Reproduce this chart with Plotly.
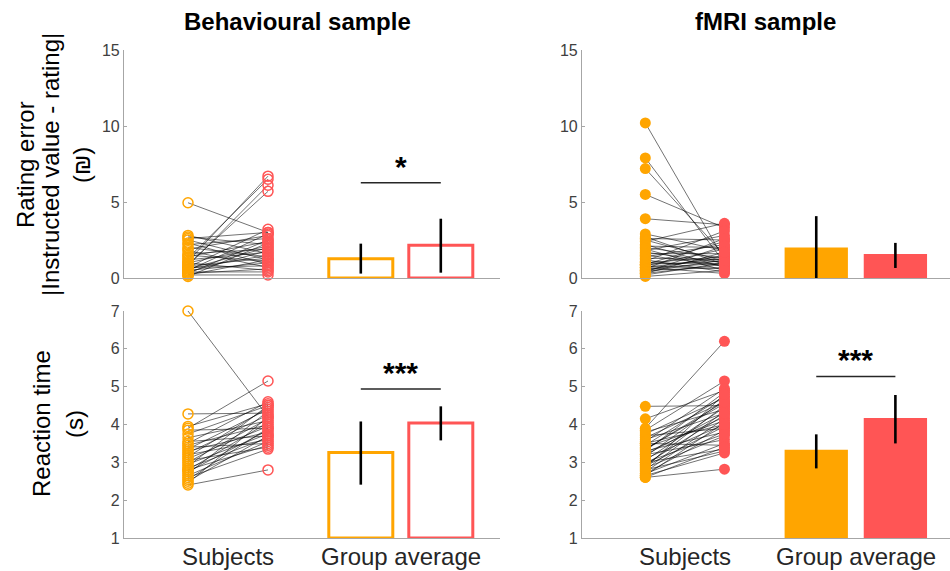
import plotly.graph_objects as go

ORANGE = "#FFA500"
RED = "#FF5555"
FONT = "Liberation Sans, Arial, sans-serif"

# ---------------- categories / ticks ----------------
subj_pos = [1, 2]
bar_pos = [3.16, 4.16]
xtick_vals = [1.5, 3.66]
xtick_labels = ["Subjects", "Group average"]
panel_titles = ["Behavioural sample", "fMRI sample"]
rating_ticks = [0, 5, 10, 15]
rt_ticks = [1, 2, 3, 4, 5, 6, 7]

# ---------------- Behavioural sample: rating error ----------------
beh_rating_orange = [4.95, 2.8, 2.7, 2.6, 2.5, 2.3, 2.2, 2.0, 1.9, 1.8, 1.6, 1.5,
                     1.4, 1.3, 1.2, 1.1, 1.0, 1.0, 0.9, 0.8, 0.8, 0.7, 0.7, 0.6,
                     0.6, 0.5, 0.5, 0.4, 0.4, 0.3, 0.3, 0.2, 0.2, 0.1]
beh_rating_red = [3.0, 1.6, 2.2, 3.0, 1.2, 0.9, 2.6, 1.4, 2.8, 0.7, 1.9, 1.1,
                  2.4, 6.5, 1.7, 6.7, 0.5, 2.1, 5.7, 6.1, 1.3, 3.2, 0.8, 2.0,
                  1.5, 2.9, 1.0, 0.4, 1.8, 2.5, 0.6, 1.2, 0.2, 2.3]
beh_rating_mean = [1.27, 2.15]
beh_rating_lo = [0.29, 0.35]
beh_rating_hi = [2.26, 3.90]

# ---------------- fMRI sample: rating error ----------------
fmri_rating_orange = [10.2, 7.9, 7.2, 5.5, 3.9, 2.9, 2.7, 2.6, 2.5, 2.4, 2.2, 2.1,
                      2.0, 1.9, 1.8, 1.7, 1.6, 1.5, 1.4, 1.3, 1.2, 1.1, 1.0, 1.0,
                      0.9, 0.9, 0.8, 0.8, 0.7, 0.7, 0.6, 0.6, 0.5, 0.5, 0.4, 0.4,
                      0.3, 0.3, 0.2, 0.1]
fmri_rating_red = [1.2, 1.0, 1.5, 3.3, 3.5, 1.8, 0.9, 2.5, 1.1, 3.6, 0.7, 2.0,
                   1.3, 0.5, 2.8, 1.0, 1.6, 0.8, 2.2, 1.2, 0.4, 3.1, 1.4, 0.9,
                   2.4, 1.1, 0.6, 1.9, 1.3, 0.3, 2.6, 1.0, 1.5, 0.7, 1.2, 2.1,
                   0.9, 1.7, 1.0, 0.5]
fmri_rating_mean = [2.0, 1.58]
fmri_rating_lo = [0.0, 0.66]
fmri_rating_hi = [4.07, 2.31]

# ---------------- Behavioural sample: reaction time ----------------
beh_rt_orange = [7.0, 4.28, 3.95, 3.9, 3.85, 3.75, 3.65, 3.55, 3.5, 3.45, 3.4, 3.35,
                 3.3, 3.25, 3.2, 3.15, 3.1, 3.05, 3.0, 2.95, 2.9, 2.85, 2.8, 2.8,
                 2.75, 2.7, 2.65, 2.6, 2.55, 2.5, 2.45, 2.4]
beh_rt_red = [4.2, 4.3, 4.55, 5.15, 3.9, 4.5, 4.1, 3.7, 4.6, 4.0, 3.5, 4.4,
              3.8, 4.25, 3.6, 4.45, 3.95, 3.4, 4.15, 3.75, 4.5, 3.65, 4.05, 3.45,
              3.85, 4.35, 3.55, 3.35, 3.9, 3.7, 4.2, 2.8]
beh_rt_mean = [3.26, 4.04]
beh_rt_lo = [2.41, 3.58]
beh_rt_hi = [4.08, 4.48]

# ---------------- fMRI sample: reaction time ----------------
fmri_rt_orange = [4.48, 4.15, 3.9, 3.85, 3.8, 3.75, 3.7, 3.65, 3.6, 3.55, 3.5, 3.45,
                  3.4, 3.35, 3.3, 3.3, 3.25, 3.2, 3.15, 3.1, 3.05, 3.0, 2.95, 2.9,
                  2.9, 2.85, 2.8, 2.8, 2.75, 2.7, 2.7, 2.65, 2.65, 2.6, 2.6, 3.35,
                  3.0, 2.85, 3.5, 3.2]
fmri_rt_red = [4.5, 4.9, 6.2, 5.15, 4.4, 4.7, 3.9, 4.6, 4.3, 4.95, 3.45, 4.75,
               4.1, 4.55, 3.8, 4.85, 4.2, 3.6, 4.65, 4.0, 4.45, 3.35, 4.25, 3.95,
               4.5, 3.7, 4.35, 3.3, 4.15, 3.85, 3.5, 4.05, 3.25, 2.82, 3.4, 4.6,
               3.75, 4.8, 4.0, 4.3]
fmri_rt_mean = [3.33, 4.17]
fmri_rt_lo = [2.84, 3.50]
fmri_rt_hi = [3.74, 4.78]

# significance markers
sig_panels = ["beh_rating", "beh_rt", "fmri_rt"]
sig_heights = [6.26, 4.94, 5.27]
sig_labels = ["*", "***", "***"]
sig_label_heights = [7.36, 5.38, 5.71]

W, H = 950, 571
fig = go.Figure()


def add_panel(xa, ya, orange_vals, red_vals, means, lo, hi, filled, base):
    lx, ly = [], []
    for o, r in zip(orange_vals, red_vals):
        lx += [subj_pos[0], subj_pos[1], None]
        ly += [o, r, None]
    fig.add_trace(go.Scatter(x=lx, y=ly, mode="lines", xaxis=xa, yaxis=ya,
                             line=dict(color="rgba(0,0,0,0.62)", width=0.9),
                             hoverinfo="skip", showlegend=False, cliponaxis=False))
    for pos, vals, col in ((subj_pos[0], orange_vals, ORANGE), (subj_pos[1], red_vals, RED)):
        if filled:
            mk = dict(symbol="circle", size=11, color=col, line=dict(width=0))
        else:
            mk = dict(symbol="circle-open", size=10, color=col, line=dict(width=1.5, color=col))
        fig.add_trace(go.Scatter(x=[pos] * len(vals), y=vals, mode="markers",
                                 xaxis=xa, yaxis=ya, marker=mk, showlegend=False,
                                 cliponaxis=False))
    fig.add_trace(go.Bar(
        x=bar_pos, y=[m - base for m in means], base=base, width=0.8,
        xaxis=xa, yaxis=ya, showlegend=False,
        marker=dict(color=[ORANGE, RED] if filled else ["rgba(0,0,0,0)"] * 2,
                    line=dict(color=[ORANGE, RED], width=0 if filled else 3)),
    ))
    fig.add_trace(go.Scatter(
        x=bar_pos, y=means, mode="markers", xaxis=xa, yaxis=ya, showlegend=False,
        marker=dict(size=1, opacity=0),
        error_y=dict(type="data", symmetric=False,
                     array=[h - m for h, m in zip(hi, means)],
                     arrayminus=[m - l for m, l in zip(means, lo)],
                     color="black", thickness=2.6, width=0),
    ))


add_panel("x", "y", beh_rating_orange, beh_rating_red, beh_rating_mean,
          beh_rating_lo, beh_rating_hi, False, 0)
add_panel("x2", "y2", fmri_rating_orange, fmri_rating_red, fmri_rating_mean,
          fmri_rating_lo, fmri_rating_hi, True, 0)
add_panel("x3", "y3", beh_rt_orange, beh_rt_red, beh_rt_mean,
          beh_rt_lo, beh_rt_hi, False, rt_ticks[0])
add_panel("x4", "y4", fmri_rt_orange, fmri_rt_red, fmri_rt_mean,
          fmri_rt_lo, fmri_rt_hi, True, rt_ticks[0])

panel_axes = {"beh_rating": ("x", "y"), "beh_rt": ("x3", "y3"), "fmri_rt": ("x4", "y4")}
shapes, annotations = [], []
for p, hgt, lab, lh in zip(sig_panels, sig_heights, sig_labels, sig_label_heights):
    xa, ya = panel_axes[p]
    shapes.append(dict(type="line", xref=xa, yref=ya, x0=bar_pos[0], x1=bar_pos[1],
                       y0=hgt, y1=hgt, line=dict(color="#262626", width=1.5)))
    annotations.append(dict(xref=xa, yref=ya, x=sum(bar_pos) / 2, y=lh, text="<b>%s</b>" % lab,
                            showarrow=False, xanchor="center", yanchor="middle",
                            font=dict(family=FONT, size=30, color="black")))

# category labels under the bottom panels
for xa in ("x3", "x4"):
    for tv, tl in zip(xtick_vals, xtick_labels):
        annotations.append(dict(xref=xa, yref="paper", x=tv, y=1 - 556 / H, text=tl,
                                showarrow=False, xanchor="center", yanchor="middle",
                                font=dict(family=FONT, size=24, color="#262626")))

# panel titles
for txt, px in zip(panel_titles, [297, 765]):
    annotations.append(dict(xref="paper", yref="paper", x=px / W, y=1 - 22 / H,
                            text="<b>%s</b>" % txt, showarrow=False,
                            xanchor="center", yanchor="middle",
                            font=dict(family=FONT, size=24, color="black")))

# y-axis titles
ytitle_lines = [("Rating error", 25, 165), ("|Instructed value - rating|", 50, 165),
                ("(₪)", 81, 165), ("Reaction time", 42, 424), ("(s)", 75, 424)]
for txt, px, py in ytitle_lines:
    annotations.append(dict(xref="paper", yref="paper", x=px / W, y=1 - py / H,
                            text=txt, showarrow=False, textangle=-90,
                            xanchor="center", yanchor="middle",
                            font=dict(family=FONT, size=24, color="black")))

AX = "#A6A6A6"
TICKC = "#404040"


def xax(dom, rng):
    return dict(domain=dom, range=rng, showline=True, linecolor=AX, linewidth=1.2,
                showgrid=False, zeroline=False, ticks="", showticklabels=False,
                automargin=False, fixedrange=True)


def yax(dom, rng, ticks, anchor):
    return dict(domain=dom, range=rng, showline=True, linecolor=AX, linewidth=1.2,
                showgrid=False, zeroline=False, ticks="inside", ticklen=3,
                tickcolor=AX, tickvals=ticks, anchor=anchor, automargin=False,
                tickfont=dict(family=FONT, size=16, color=TICKC), fixedrange=True)


xl = [124 / W, 500 / W]
xr = [582 / W, 1.0]
yt = [1 - 278 / H, 1 - 50 / H]
yb = [1 - 538 / H, 1 - 311 / H]

fig.update_layout(
    template="none",
    width=W, height=H, margin=dict(l=0, r=0, t=0, b=0, pad=0), autosize=False,
    paper_bgcolor="white", plot_bgcolor="white", showlegend=False,
    xaxis=dict(**xax(xl, [0.2, 4.9]), anchor="y"),
    xaxis2=dict(**xax(xr, [0.2, 4.85]), anchor="y2"),
    xaxis3=dict(**xax(xl, [0.2, 4.9]), anchor="y3"),
    xaxis4=dict(**xax(xr, [0.2, 4.85]), anchor="y4"),
    yaxis=yax(yt, [0, 15], rating_ticks, "x"),
    yaxis2=yax(yt, [0, 15], rating_ticks, "x2"),
    yaxis3=yax(yb, [1, 7], rt_ticks, "x3"),
    yaxis4=yax(yb, [1, 7], rt_ticks, "x4"),
    shapes=shapes, annotations=annotations,
)

fig.write_html("out.html", config={"displayModeBar": False},
               post_script="document.body.style.margin='0px';")
